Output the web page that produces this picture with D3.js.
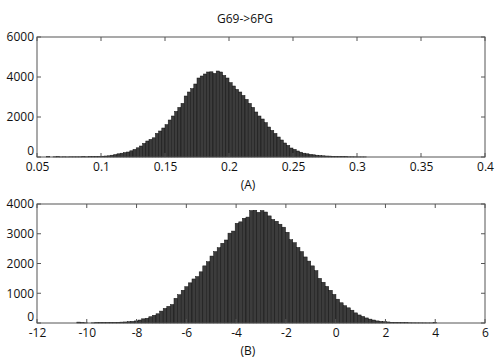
<!DOCTYPE html>
<html><head><meta charset="utf-8">
<script src="https://cdn.jsdelivr.net/npm/d3@7"></script>
<style>
body{margin:0;background:#fff;}
text{font-family:"Open Sans",sans-serif;fill:#111;}
</style></head>
<body><svg id="c" width="500" height="363"></svg>
<script>
const title = "G69->6PG";
// Panel A: 100 bins, start 0.0575, width 0.0025
const binStartA = [0.0575];
const binWidthA = [0.0025];
const countsA = [20,0,10,15,5,10,5,10,10,10,10,15,10,15,15,20,20,40,50,60,
 90,120,160,190,220,250,310,380,460,550,680,800,880,960,1180,1300,1450,1620,1850,2050,
 2280,2480,2680,3050,3250,3420,3650,3950,4050,4150,4250,4260,4180,4300,4250,4080,3950,3720,3550,3380,
 3250,3080,2880,2680,2480,2250,2050,1900,1720,1500,1330,1180,1000,850,700,580,450,380,300,240,
 190,160,130,110,90,75,60,50,45,35,30,20,20,15,10,10,8,5,5,5];
const xTicksA = [0.05,0.1,0.15,0.2,0.25,0.3,0.35,0.4];
const yTicksA = [0,2000,4000,6000];
const labelA = "(A)";
// Panel B: 100 bins, start -10.4, width 0.1446
const binStartB = [-10.4];
const binWidthB = [0.1446];
const countsB = [30,10,5,0,5,10,15,15,15,20,20,25,30,35,45,55,70,100,140,160,
 210,260,310,400,490,560,620,830,950,1100,1220,1350,1480,1560,1720,1920,2060,2250,2400,2530,
 2680,2790,3020,3090,3350,3400,3520,3560,3780,3790,3720,3780,3730,3600,3480,3420,3320,3220,3050,2800,
 2700,2540,2400,2220,2080,1920,1760,1500,1370,1230,1100,960,800,680,580,510,430,340,270,220,
 170,130,100,70,55,45,35,25,20,15,12,10,8,6,5,5,4,3,3,10];
const xTicksB = [-12,-10,-8,-6,-4,-2,0,2,4,6];
const yTicksB = [0,1000,2000,3000,4000];
const labelB = "(B)";

const FS = 12;
const svg = d3.select("#c");
svg.append("text").attr("x",245).attr("y",23).attr("text-anchor","middle")
  .attr("font-size",FS).text(title);

function panel(cfg){
  const {left,right,top,bottom,xdom,ydom,counts,start,width,xt,yt,label,labelY,fmt,zeroDy} = cfg;
  const x = d3.scaleLinear().domain(xdom).range([left,right]);
  const y = d3.scaleLinear().domain(ydom).range([bottom,top]);
  const g = svg.append("g");
  g.selectAll("rect.bar").data(counts).join("rect").attr("class","bar")
    .attr("x",(d,i)=>x(start+i*width))
    .attr("width",(d,i)=>x(start+(i+1)*width)-x(start+i*width))
    .attr("y",d=>y(d)).attr("height",d=>y(0)-y(d))
    .attr("fill","#3c3c3c").attr("stroke","#111").attr("stroke-width",0.5);
  g.append("rect").attr("x",left).attr("y",top).attr("width",right-left).attr("height",bottom-top)
    .attr("fill","none").attr("stroke","#555").attr("stroke-width",1);
  const tl = 4;
  const xb = d3.axisBottom(x).tickValues(xt).tickSize(0).tickPadding(5).tickFormat(fmt);
  const ax = g.append("g").attr("transform",`translate(0,${bottom})`).call(xb);
  ax.select(".domain").remove();
  ax.selectAll("text").attr("font-size",FS).attr("font-family","Open Sans").attr("fill","#111");
  const yl = d3.axisLeft(y).tickValues(yt).tickSize(0).tickPadding(3).tickFormat(d3.format("d"));
  const ay = g.append("g").attr("transform",`translate(${left},0)`).call(yl);
  ay.select(".domain").remove();
  ay.selectAll("text").attr("font-size",FS).attr("font-family","Open Sans").attr("fill","#111")
    .attr("dy",d=>d===0?zeroDy:"0.32em");
  g.selectAll("line.tb").data(xt).join("line").attr("class","tb")
    .attr("x1",d=>x(d)).attr("x2",d=>x(d)).attr("y1",bottom).attr("y2",bottom-tl)
    .attr("stroke","#555");
  g.selectAll("line.tt").data(xt).join("line").attr("class","tt")
    .attr("x1",d=>x(d)).attr("x2",d=>x(d)).attr("y1",top).attr("y2",top+tl)
    .attr("stroke","#555");
  g.selectAll("line.tl").data(yt).join("line").attr("class","tl")
    .attr("x1",left).attr("x2",left+tl).attr("y1",d=>y(d)).attr("y2",d=>y(d))
    .attr("stroke","#555");
  g.selectAll("line.tr").data(yt).join("line").attr("class","tr")
    .attr("x1",right).attr("x2",right-tl).attr("y1",d=>y(d)).attr("y2",d=>y(d))
    .attr("stroke","#555");
  svg.append("text").attr("x",(left+right)/2 - 13).attr("y",labelY).attr("text-anchor","middle")
    .attr("font-size",FS).text(label);
}

panel({left:37,right:485,top:37,bottom:157,xdom:[0.05,0.4],ydom:[0,6000],
  counts:countsA,start:binStartA[0],width:binWidthA[0],xt:xTicksA,yt:yTicksA,
  label:labelA,labelY:189,fmt:d3.format(""),zeroDy:"-0.25em"});
panel({left:37,right:485,top:204,bottom:323,xdom:[-12,6],ydom:[0,4000],
  counts:countsB,start:binStartB[0],width:binWidthB[0],xt:xTicksB,yt:yTicksB,
  label:labelB,labelY:355,fmt:d=>String(d),zeroDy:"-0.25em"});
</script></body></html>
